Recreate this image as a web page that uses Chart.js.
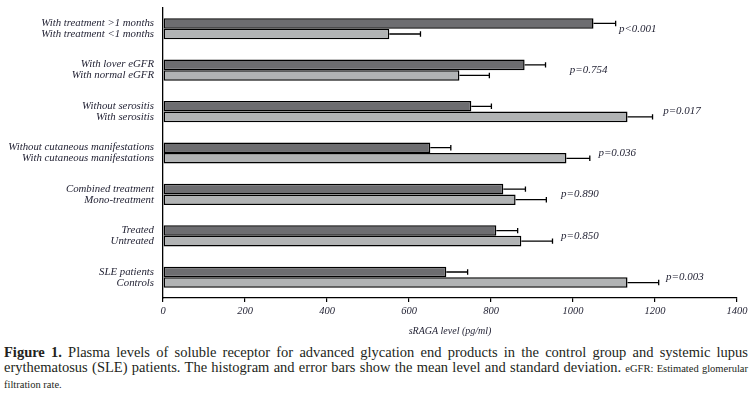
<!DOCTYPE html>
<html>
<head>
<meta charset="utf-8">
<script src="https://cdn.jsdelivr.net/npm/chart.js@4.4.1/dist/chart.umd.min.js"></script>
<style>
  html, body { margin: 0; padding: 0; background: #fff; }
  #wrap { position: absolute; left: 0; top: 0; width: 756px; height: 341px; }
  .cap { position: absolute; left: 4px; width: 744px; font-family: "Liberation Serif", "Times New Roman", serif; color: #231f20; white-space: nowrap; }
  .just { text-align: justify; text-align-last: justify; }
  .l1 { top: 345px; font-size: 14.5px; line-height: 15px; }
  .l2 { top: 359.5px; font-size: 14.5px; line-height: 15px; }
  .l3 { top: 378.5px; font-size: 10.5px; line-height: 12px; }
  .small { font-size: 10.5px; }
</style>
</head>
<body>
<div id="wrap"><canvas id="c"></canvas></div>
<div class="cap just l1"><b>Figure 1.</b> Plasma levels of soluble receptor for advanced glycation end products in the control group and systemic lupus</div>
<div class="cap just l2">erythematosus (SLE) patients. The histogram and error bars show the mean level and standard deviation. <span class="small">eGFR: Estimated glomerular</span></div>
<div class="cap l3">filtration rate.</div>
<script>
const labelsTop = ["With treatment >1 months","With lover eGFR","Without serositis","Without cutaneous manifestations","Combined treatment","Treated","SLE patients"];
const labelsBottom = ["With treatment <1 months","With normal eGFR","With serositis","With cutaneous manifestations","Mono-treatment","Untreated","Controls"];
const darkMeans = [1050, 882, 752, 652, 830, 813, 691];
const darkSD = [54, 51, 49, 50, 54, 52, 52];
const lightMeans = [552, 723, 1133, 984, 860, 874, 1133];
const lightSD = [76, 73, 61, 57, 75, 76, 76];
const pValues = ["p<0.001","p=0.754","p=0.017","p=0.036","p=0.890","p=0.850","p=0.003"];
const pLabelX = [1112, 992, 1220, 1062, 971, 971, 1227];
const xTicks = [0, 200, 400, 600, 800, 1000, 1200, 1400];

const categories = labelsTop.map((t, i) => [t, labelsBottom[i]]);
const sds = [darkSD, lightSD];
const textColor = '#1e1e30';
const serif = '"Liberation Serif", "Times New Roman", serif';

const errorPlugin = {
  id: 'errorBarsAndP',
  afterDatasetsDraw(chart) {
    const ctx = chart.ctx;
    const xs = chart.scales.x, ys = chart.scales.y;
    ctx.save();
    ctx.strokeStyle = '#000';
    ctx.lineWidth = 1.3;
    chart.data.datasets.forEach((ds, di) => {
      const meta = chart.getDatasetMeta(di);
      meta.data.forEach((bar, i) => {
        const v = ds.data[i];
        const x0 = xs.getPixelForValue(v);
        const x1 = xs.getPixelForValue(v + sds[di][i]);
        const y = bar.y;
        ctx.beginPath();
        ctx.moveTo(x0, y); ctx.lineTo(x1, y);
        ctx.moveTo(x1, y - 2.7); ctx.lineTo(x1, y + 2.7);
        ctx.stroke();
      });
    });
    ctx.fillStyle = textColor;
    ctx.font = 'italic 11px ' + serif;
    ctx.textAlign = 'left';
    ctx.textBaseline = 'middle';
    pValues.forEach((p, i) => {
      ctx.fillText(p, xs.getPixelForValue(pLabelX[i]), ys.getPixelForValue(i));
    });
    ctx.restore();
  }
};

new Chart(document.getElementById('c'), {
  type: 'bar',
  data: {
    labels: categories,
    datasets: [
      { data: darkMeans, backgroundColor: '#6d6d70', borderColor: '#000', borderWidth: 1.5, borderSkipped: false, categoryPercentage: 0.51, barPercentage: 1 },
      { data: lightMeans, backgroundColor: '#b1b3b4', borderColor: '#000', borderWidth: 1.5, borderSkipped: false, categoryPercentage: 0.51, barPercentage: 1 }
    ]
  },
  options: {
    indexAxis: 'y',
    responsive: true,
    maintainAspectRatio: false,
    animation: false,
    layout: { padding: { top: 8, right: 19, left: 0, bottom: 0 } },
    plugins: { legend: { display: false }, tooltip: { enabled: false } },
    scales: {
      x: {
        min: 0, max: 1400,
        afterBuildTicks(scale) { scale.ticks = xTicks.map(v => ({ value: v })); },
        afterFit(scale) { scale.height = 43; },
        ticks: { color: textColor, font: { family: serif, size: 10.5, style: 'italic' }, padding: 3, callback: (v) => String(v) },
        grid: { display: true, drawOnChartArea: false, drawTicks: true, tickLength: 4, color: '#000', lineWidth: 1.2 },
        border: { display: true, color: '#000', width: 1.3 },
        title: { display: true, text: 'sRAGA level (pg/ml)', color: textColor, font: { family: serif, size: 10, style: 'italic' }, padding: 4 }
      },
      y: {
        afterFit(scale) { scale.width = 163; scale.paddingTop = 0; scale.paddingBottom = 0; },
        ticks: { color: textColor, font: { family: serif, size: 10.8, style: 'italic', lineHeight: 1.02 }, padding: 1 },
        grid: { display: false },
        border: { display: true, color: '#000', width: 1.3 }
      }
    }
  },
  plugins: [errorPlugin]
});
</script>
</body>
</html>
